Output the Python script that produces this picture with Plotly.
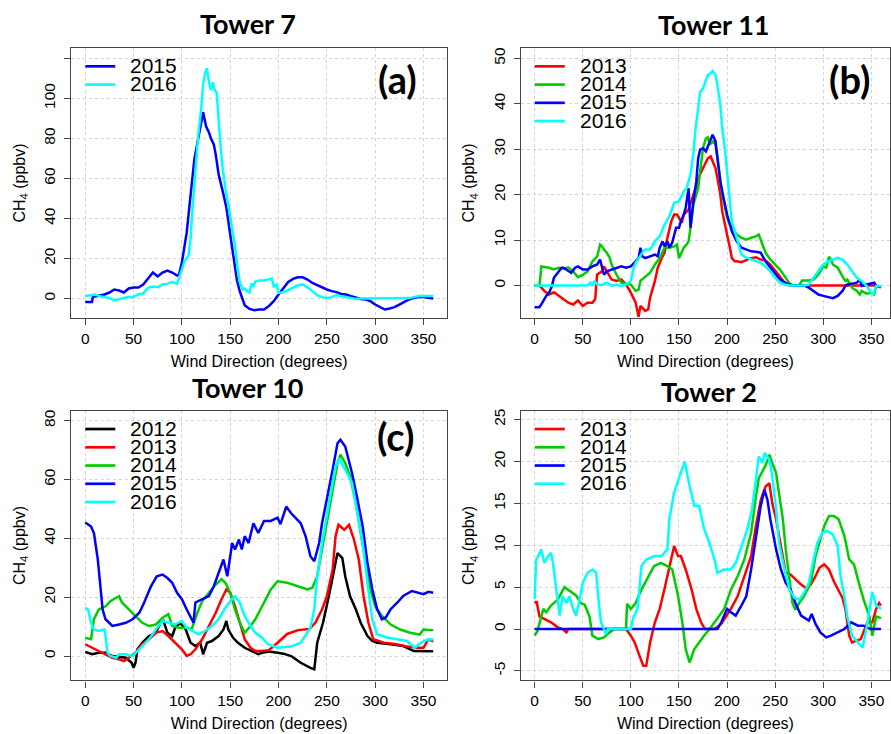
import plotly.graph_objects as go

W, H = 891, 734

# ---------------- data (wind direction in degrees, CH4 in ppbv) ----------------
a2015 = [(0,-1.8),(5,-1.8),(7,-1.8),(8,1),(10,1),(15,1.5),(20,2),(25,3),(30,4.5),(35,4),(40,3),(45,5),(50,5.5),(55,5.5),(60,7),(65,10),(70,13),(75,11),(80,13),(85,14),(90,13),(95,11.5),(97,12),(100,18),(103,26),(105,33),(108,47),(110,57),(113,70),(115,75),(118,82),(120,88),(122,93),(125,86),(128,83),(130,80),(133,77),(135,72),(138,62),(143,52),(146,45.5),(150,32),(153,22),(157,9),(160,3.5),(163,-1.3),(165,-3.3),(170,-5.2),(175,-5.8),(180,-5.5),(185,-5.5),(190,-3.8),(195,-1.3),(200,2),(205,5.3),(210,8.3),(215,9.8),(220,10.6),(225,10.6),(230,9.5),(235,7.8),(240,6.6),(245,5.3),(250,4.5),(255,3.7),(260,3.2),(265,2.3),(270,2),(275,1.2),(280,0.3),(285,-0.2),(290,-0.5),(295,-1.3),(300,-3),(305,-4.3),(310,-5.5),(315,-5),(320,-4.3),(325,-3),(330,-1.7),(335,-0.5),(340,0.3),(345,0.7),(350,0.7),(355,0.3),(360,0)]
a2016 = [(0,1.2),(5,1.7),(10,2),(15,1.2),(20,0.7),(25,0.3),(30,-1),(35,-0.2),(40,0.3),(45,0.7),(50,0.8),(55,2),(60,2.5),(65,5.3),(70,6),(75,5.6),(80,7),(85,7.3),(90,8.3),(95,7.3),(97,10.3),(100,15),(103,19),(107,21.5),(109,30),(111,45),(113,59),(115,70),(117,82),(120,95),(122,107),(124,112.5),(126,115),(128,108),(130,104),(132,108),(134,104),(136,103),(138,88),(140,76),(142,66),(145,55),(148,47),(150,41),(153,33),(155,26),(158,14),(160,8),(163,4.5),(165,5),(168,3.5),(170,3),(172,7.5),(174,6),(176,8.5),(180,9),(185,9),(190,9.5),(193,10),(195,6),(198,7),(200,2.8),(205,3.2),(210,4.2),(215,5.3),(220,6.6),(225,7),(230,5.6),(235,3.7),(240,1.7),(245,0.7),(250,0.3),(255,0.7),(260,1.7),(265,1.2),(270,0.7),(275,0.3),(280,-0.2),(285,0),(290,0),(300,0),(310,0),(320,0),(330,0),(335,0.2),(340,0.7),(345,1.2),(350,1.2),(355,1.3),(360,1.2)]

b2013 = [(0,0),(5,0),(10,-1.2),(15,-2),(20,-1.5),(25,-2.3),(30,-3),(35,-3.8),(40,-4.2),(45,-3.3),(50,-4.5),(55,-3.8),(60,-3.8),(63,-3),(64,0.2),(65,2.4),(70,3.1),(72,4.2),(75,3.1),(80,1.3),(85,1),(90,1.3),(95,0.2),(100,-1.6),(105,-3.8),(108,-6.9),(110,-4.5),(115,-5.6),(118,-5.3),(120,-2.7),(125,1),(128,3.9),(132,6),(135,7.2),(138,10.5),(142,14.1),(145,15.6),(148,15.6),(150,14.9),(153,13.8),(155,15.6),(158,16.3),(160,16.7),(165,20),(168,21.8),(170,23.6),(175,25.8),(180,28),(183,28.4),(185,27.3),(188,25.8),(190,23.6),(193,20),(195,16.3),(198,12.7),(200,11.2),(203,8.3),(205,6),(208,5.3),(210,5.3),(215,5.1),(220,5.5),(225,6),(230,6.2),(235,5.7),(240,5.5),(245,4.6),(250,3.3),(255,2),(260,0.6),(265,0),(280,0),(300,0),(320,0),(340,0),(355,0)]
b2014 = [(0,0),(5,0),(7,4.2),(10,4.1),(15,3.9),(20,3.5),(25,3.9),(30,3.7),(35,4),(40,3.1),(45,1.8),(50,2.3),(55,3.1),(60,5.3),(65,6.4),(68,9),(70,8.6),(72,7.9),(75,7.2),(78,6.1),(80,4.6),(85,2.4),(90,0.6),(95,0.4),(100,0.2),(105,-1.2),(108,-0.9),(110,1),(115,2),(120,2.8),(125,4.6),(130,6),(135,8.3),(140,8.3),(145,8.6),(148,9),(150,6),(152,6.8),(155,8.3),(158,9),(160,9.7),(162,12.7),(165,17.8),(168,20),(170,21.4),(172,25.1),(175,30.2),(178,32.4),(180,32.6),(182,31),(185,31.7),(188,31),(190,28),(193,23.6),(195,20),(198,17.1),(200,14.9),(203,13.4),(205,12.7),(208,11.9),(210,11.2),(215,10.5),(220,10.1),(225,10.5),(230,10.8),(233,11.2),(235,10.1),(238,8.3),(240,7.2),(245,5.7),(250,4.6),(255,3.5),(260,2),(265,0.4),(268,0),(275,0),(278,1.1),(285,1.1),(290,1.3),(295,2.4),(300,4.2),(303,3.9),(306,6.3),(308,5.7),(310,4.6),(315,3.9),(320,2),(323,1),(325,1.3),(330,-0.5),(335,-1.2),(338,-2),(340,-1.2),(345,-1.8),(350,-1.6),(353,-2),(355,0)]
b2015 = [(0,-4.8),(5,-4.8),(8,-3.8),(12,-2.3),(15,-1.6),(18,-0.1),(20,1.7),(25,3.1),(28,3.9),(30,3.9),(35,3.3),(38,2.8),(42,3.9),(45,4.2),(50,3.5),(55,3.5),(60,4.2),(65,4.6),(68,5.7),(70,4.2),(72,2.4),(75,3.1),(80,3.5),(85,3.9),(90,4.2),(95,3.9),(100,4.2),(105,5.3),(108,6),(110,8.3),(112,6.4),(115,6),(120,6.4),(125,6.8),(128,6.4),(130,8.3),(133,9.7),(135,8.6),(138,9.7),(140,8.3),(143,9.4),(145,11.2),(147,12.7),(150,12.7),(152,14.1),(155,15.6),(157,17.1),(160,21.4),(162,12.7),(165,18.5),(168,22.9),(170,28),(172,29.9),(175,30.2),(178,29.5),(180,30.6),(183,32.4),(185,33.2),(188,31.7),(190,28),(193,22.9),(195,20.7),(198,17.8),(200,15.6),(205,11.9),(210,9.7),(215,8.3),(220,7.9),(225,7.5),(230,7.4),(235,7.2),(240,5.3),(245,3.9),(250,2.6),(255,1.3),(260,0.6),(265,0.2),(270,0),(280,0),(285,-0.5),(290,-1.2),(295,-2),(300,-2.3),(305,-2.6),(310,-2.8),(315,-2.3),(320,-1.2),(323,-0.1),(325,0.2),(330,0.4),(335,0.6),(338,1.3),(340,-0.1),(345,0.2),(350,0.4),(353,0.6),(355,-0.1),(360,-0.4)]
b2016 = [(0,0),(20,0),(40,0),(55,0),(58,0.6),(60,-0.1),(62,1),(65,0.2),(70,0.1),(75,0.6),(80,-0.1),(85,0.2),(90,-0.1),(95,0.2),(100,1),(103,3.9),(105,5),(108,6),(110,6.8),(113,7.5),(115,7.9),(120,7.9),(125,9.7),(130,10.8),(135,13.4),(140,15.2),(145,18.2),(150,18.5),(155,20.7),(158,21.4),(162,24.4),(165,29),(167,34),(170,40),(172,42.5),(175,43.4),(178,44.9),(180,46.3),(183,46.7),(185,47.2),(188,46.3),(190,44.1),(193,39.8),(195,34.6),(198,29.5),(200,24.4),(203,18.5),(205,14.1),(208,11.9),(210,10.5),(213,8.3),(215,6.8),(220,6.1),(225,5.7),(230,5.3),(235,5),(240,4.2),(245,3.1),(250,1.7),(255,0.6),(260,0.2),(265,0),(280,0),(285,0.2),(290,1.7),(295,3.1),(300,4.6),(305,5.3),(310,5.7),(315,6.1),(320,5.7),(325,4.6),(330,3.1),(335,1.7),(340,1),(345,-0.1),(350,-1.6),(352,-2),(355,-0.1),(360,-0.1)]

c2012 = [(0,1.4),(7,0.6),(14,1.1),(21,1.1),(28,0),(35,-0.2),(42,-0.6),(48,-2.3),(50,-4),(52,-2.3),(54,2.3),(59,4.5),(66,6.8),(73,7.9),(78,11.3),(81,11.9),(85,7.9),(90,6.8),(93,9.6),(98,11.3),(104,9),(109,4.5),(114,3.4),(119,4.5),(122,0.6),(126,4.5),(131,5.1),(138,6.8),(143,9),(146,11.9),(148,9),(153,6.2),(158,4.5),(165,2.8),(172,1.7),(179,0.6),(183,1.1),(190,1.5),(199,1.1),(205,0.8),(213,0),(223,-2.3),(233,-4),(237,-4.5),(240,4.5),(246,11.3),(252,20.3),(258,30.5),(261,35),(266,33.3),(269,27.1),(274,20.3),(280,15.8),(285,11.3),(292,6.8),(297,5.1),(302,4.5),(316,4),(329,3.4),(340,1.7),(357,1.7),(360,1.6)]
c2013 = [(0,4),(7,2.8),(14,1.7),(21,0.6),(28,-0.6),(35,-1.1),(40,-1.7),(45,-0.6),(52,1.1),(59,4),(66,5.7),(73,7.9),(80,8.5),(86,6.8),(93,4.5),(100,2.3),(105,0),(109,0.6),(114,2.3),(121,5.7),(128,10.2),(135,14.7),(141,19.3),(146,22.6),(150,21.5),(155,16.9),(160,11.3),(165,5.7),(171,2.8),(176,1.7),(183,1.7),(190,2),(199,4.5),(209,7.5),(220,8.8),(232,9.2),(238,11.3),(245,15.8),(250,20.3),(256,29.4),(259,40.7),(262,44.6),(268,42.9),(273,44.6),(278,39.6),(283,32.8),(288,20.3),(293,11.3),(298,5.7),(309,4.5),(322,4),(333,3.2),(343,2.8),(350,2.8),(355,5.7),(360,5)]
c2014 = [(0,6.2),(6,5.7),(9,12.5),(14,15.8),(21,16.9),(26,18.6),(32,19.8),(35,20.3),(38,18.2),(45,15.8),(52,13.6),(59,11.3),(66,10.2),(73,10.7),(80,13),(86,14.2),(90,10.2),(97,9.6),(105,9.6),(110,9),(116,14.7),(121,18.6),(128,21.5),(135,24.3),(141,26.1),(145,24.9),(150,21.5),(155,15.8),(160,11.3),(165,7.9),(171,10.2),(176,12.5),(183,16.9),(192,22.6),(199,25.4),(209,24.9),(220,23.7),(230,22.6),(235,23.2),(240,27.1),(245,36.2),(250,45.1),(256,55.4),(261,65.6),(264,68.4),(269,65.6),(274,61.1),(280,52),(285,41.8),(290,31.7),(295,22.6),(300,16.9),(307,13.6),(316,10.7),(326,9),(336,7.9),(346,7.3),(350,9),(355,9),(360,8.8)]
c2015 = [(0,45.4),(6,44),(9,41.8),(13,32.8),(16,22.6),(18,15.8),(21,12.5),(28,10.2),(35,10.7),(42,11.3),(49,12.5),(56,14.7),(61,18.2),(68,23.7),(74,27.1),(80,27.7),(85,26.5),(90,24.9),(95,21.5),(100,19.3),(105,15.8),(110,12.5),(112,11.3),(114,18.2),(121,19.3),(128,20.4),(133,23.7),(138,28.3),(143,32.8),(147,27.1),(152,38.4),(155,36.2),(159,39.6),(162,36.2),(165,40.7),(169,38.4),(174,45.1),(179,41.8),(183,44.4),(185,45.9),(192,45.9),(199,47),(202,44.8),(208,50.8),(213,48.5),(223,45.1),(228,40.7),(233,33.9),(237,32.2),(242,38.4),(245,45.1),(250,52.9),(256,63.3),(261,72.3),(264,73.5),(269,71.2),(276,62.2),(281,54.3),(287,44.1),(292,31.7),(297,22.7),(302,15.9),(307,12.5),(311,13.1),(316,15.9),(323,18.2),(329,20.4),(338,22.1),(343,21.6),(350,21),(355,21.8),(360,21.5)]
c2016 = [(0,16.4),(3,15.8),(6,11.3),(9,9),(14,8.5),(20,9),(21,6.8),(23,1.1),(26,0),(32,-0.6),(35,0.6),(42,0.6),(49,0),(56,2.3),(61,4),(66,5.7),(73,9),(80,11.9),(86,11.3),(93,10.7),(100,11.9),(105,9.6),(111,8.5),(117,7.4),(124,8.5),(131,10.2),(138,12.5),(145,16.4),(150,18.6),(155,20.3),(160,18.1),(165,13.6),(171,10.2),(176,7.9),(183,6.2),(189,4),(199,2.8),(213,3.2),(223,4.5),(233,9.6),(237,16),(240,27),(245,38.4),(249,46.3),(254,55.4),(259,64.4),(263,67.2),(266,65),(271,62.2),(276,58.8),(281,49.7),(287,38.4),(292,24.8),(297,12.5),(302,7.4),(312,6.3),(323,5.7),(333,5.1),(341,2.8),(347,4.5),(355,5.7),(360,5.6)]

d2013 = [(0,3.1),(2,3.3),(5,1.5),(10,1.2),(17,0.8),(24,0.2),(29,0),(33,-0.4),(35,0),(60,0),(95,0),(100,-0.8),(104,-1.6),(109,-3.2),(113,-4.4),(116,-4.4),(120,-1.6),(125,0.8),(130,2.4),(135,4.8),(140,7.5),(145,9.9),(149,8.7),(152,8.7),(157,7.1),(163,4.8),(168,2.4),(173,0.8),(177,0),(187,0),(194,0.6),(204,2.4),(211,3.9),(218,6.3),(225,8.7),(230,12.3),(235,15.4),(240,17),(244,17.4),(247,15),(251,13.1),(256,9.9),(261,6.7),(266,6.5),(271,5.9),(277,5.3),(282,4.9),(287,5.3),(292,6.3),(296,7.3),(301,7.7),(306,7.1),(311,5.7),(316,4.5),(320,3.7),(323,2.4),(327,-0.8),(330,-1.6),(334,-1.4),(339,-1.2),(346,0.8),(351,0.8),(355,2.4),(358,3.1),(360,2.8)]
d2014 = [(0,-0.8),(3,-0.2),(9,2.4),(12,2),(17,2.8),(24,3.5),(31,5),(36,4.6),(43,4),(48,3.1),(52,2.9),(57,1.5),(60,-0.8),(66,-1.2),(72,-1),(78,-0.4),(83,0),(95,0),(96,3),(100,2.4),(105,3.1),(111,4.7),(118,6.3),(124,7.5),(131,7.9),(138,7.5),(143,7.1),(149,4),(154,0.4),(157,-2.4),(161,-4),(166,-2.4),(171,-1.6),(176,-0.8),(182,0),(187,0.8),(197,2.4),(204,4.7),(211,6.3),(218,8.3),(225,11.5),(230,15.8),(233,18),(240,19.5),(244,20.8),(247,19.8),(251,18.6),(254,16.2),(258,13.1),(261,9.5),(265,5.5),(268,3.1),(271,2.3),(275,3.1),(280,3.9),(287,5.5),(292,8.7),(296,10.3),(301,12.3),(306,13.5),(311,13.5),(316,13.1),(322,11.1),(327,8.3),(332,7.7),(337,5.5),(342,3.5),(348,1.5),(351,-0.8),(355,1.5),(360,1.3)]
d2015 = [(0,0),(50,0),(100,0),(150,0),(190,0),(194,0.8),(200,2.4),(204,2),(209,1.6),(214,2.6),(220,3.9),(225,7.1),(230,11.1),(235,14.7),(239,16.6),(242,15.4),(245,13.1),(251,9.5),(256,7.1),(261,5.5),(266,4.7),(271,3.1),(277,1.6),(282,1.2),(285,1),(288,1.8),(292,0.6),(297,-0.4),(303,-1),(308,-0.8),(315,-0.4),(322,0),(329,0.8),(336,0.4),(342,0.4),(349,0),(360,0)]
d2016 = [(0,3.6),(1.5,8.2),(7,9.5),(10,7.9),(14,8.7),(17,9.1),(19,7.9),(22,5.1),(26,1.6),(29,3.9),(33,3.1),(36,3.9),(40,2.4),(43,1.6),(46,3.1),(50,5.5),(55,6.7),(60,7.1),(64,6.7),(66,3.9),(69,0.8),(72,0),(74,-0.6),(76,0),(100,0),(102,1.2),(107,2.4),(111,7.5),(116,8.3),(125,8.7),(132,8.7),(138,9.5),(140,13.1),(145,16.3),(151,18.3),(156,20),(161,17.1),(166,14.7),(171,14.7),(176,12),(181,10.5),(187,8.3),(190,6.7),(197,7.1),(204,7.1),(209,7.9),(214,9.5),(221,11.9),(226,14.3),(230,18.2),(233,20.6),(237,19.8),(239,21),(244,20.2),(247,18.2),(251,14.3),(254,10.3),(259,7.5),(265,4.7),(270,3.7),(275,3.5),(280,4.3),(285,5.5),(290,8.3),(294,10.3),(299,11.5),(304,11.7),(310,11.3),(315,9.9),(318,6.3),(322,3.9),(325,1.5),(330,-0.8),(336,-1.6),(341,-2.2),(346,0.8),(351,4.4),(355,2.8),(360,2.4)]

x_ticks = [0, 50, 100, 150, 200, 250, 300, 350]
a_yticks = [0, 20, 40, 60, 80, 100]
a_ylabels = ["0", "20", "40", "60", "80", "100"]
a_yextra = [120]          # unlabelled tick + grid line at the top of panel (a)
b_yticks = [0, 10, 20, 30, 40, 50]
b_ylabels = ["0", "10", "20", "30", "40", "50"]
c_yticks = [0, 20, 40, 60, 80]
c_ylabels = ["0", "20", "40", "60", "80"]
d_yticks = [-5, 0, 5, 10, 15, 20, 25]
d_ylabels = ["-5", "0", "5", "10", "15", "20", "25"]

COLORS = {"2012": "#000000", "2013": "#FF0000", "2014": "#00CD00",
          "2015": "#0000FF", "2016": "#00FFFF"}

# ---------------- layout geometry (pixels) ----------------
panels = [
    dict(ax="", title="Tower 7", label="(a)", series=[("2015", a2015), ("2016", a2016)],
         box=(71.4, 447.6, 46, 317), xr=[-14.4, 374.4], yr=[-9.8, 125.2],
         yt=a_yticks, yl=a_ylabels, ym=a_yextra, tpos=(248, 22), lpos=(398, 77)),
    dict(ax="2", title="Tower 11", label="(b)",
         series=[("2013", b2013), ("2014", b2014), ("2015", b2015), ("2016", b2016)],
         box=(521.4, 891, 46, 317), xr=[-14.4, 369.4], yr=[-7.2, 52.3],
         yt=b_yticks, yl=b_ylabels, ym=None, tpos=(714, 23), lpos=(850, 77)),
    dict(ax="3", title="Tower 10", label="(c)",
         series=[("2012", c2012), ("2013", c2013), ("2014", c2014), ("2015", c2015), ("2016", c2016)],
         box=(71.4, 447.6, 409.7, 680.3), xr=[-14.4, 374.4], yr=[-8.3, 83.4],
         yt=c_yticks, yl=c_ylabels, ym=None, tpos=(248, 387), lpos=(396, 435)),
    dict(ax="4", title="Tower 2", label=None,
         series=[("2013", d2013), ("2014", d2014), ("2015", d2015), ("2016", d2016)],
         box=(521.4, 891, 409.7, 680.3), xr=[-14.4, 369.4], yr=[-6.14, 26.07],
         yt=d_yticks, yl=d_ylabels, ym=None, tpos=(710, 391), lpos=None),
]


def px(x):
    return x / W


def py(y):
    return 1 - y / H


fig = go.Figure()
annotations = []
shapes = []
TICKFONT = dict(family="Liberation Sans, Arial, sans-serif", size=15.5, color="#000000")
LABFONT = dict(family="Liberation Sans, Arial, sans-serif", size=16, color="#000000")
TITLEFONT = dict(family="Lato, sans-serif", size=27, color="#000000", weight="bold")

for p in panels:
    L, R, T, B = p["box"]
    xa = "x" + p["ax"]
    ya = "y" + p["ax"]
    for year, pts in p["series"]:
        fig.add_trace(go.Scatter(
            x=[d for d, v in pts], y=[v for d, v in pts], mode="lines",
            line=dict(color=COLORS[year], width=2.5), xaxis=xa, yaxis=ya,
            showlegend=False, name=year))
    common = dict(showline=True, mirror=True, linecolor="#444444", linewidth=1.2,
                  ticks="outside", ticklen=6, tickcolor="#444444", tickwidth=1,
                  showgrid=True, gridcolor="#D3D3D3", griddash="dot", gridwidth=1,
                  zeroline=False, tickfont=TICKFONT)
    fig.layout["xaxis" + p["ax"]] = dict(
        domain=[px(L), min(px(R), 1.0)], range=p["xr"], anchor=ya,
        title=dict(text="Wind Direction (degrees)", font=LABFONT, standoff=9),
        tickmode="array", tickvals=x_ticks, ticktext=[str(t) for t in x_ticks], **common)
    ydict = dict(domain=[py(B), py(T)], range=p["yr"], anchor=xa, tickangle=-90,
                 ticklabelstandoff=3,
                 title=dict(text="CH<sub>4</sub> (ppbv)", font=LABFONT, standoff=11),
                 tickmode="array", tickvals=p["yt"], ticktext=p["yl"], **common)
    if p["ym"]:
        ydict["minor"] = dict(tickmode="array", tickvals=p["ym"], ticks="outside",
                              ticklen=6, tickcolor="#444444", tickwidth=1,
                              showgrid=True, gridcolor="#D3D3D3", griddash="dot",
                              gridwidth=1)
    fig.layout["yaxis" + p["ax"]] = ydict

    # titles
    annotations.append(dict(text=p["title"], x=px(p["tpos"][0]), y=py(p["tpos"][1]),
                            xref="paper", yref="paper", showarrow=False,
                            xanchor="center", yanchor="middle", font=TITLEFONT))
    if p["label"]:
        annotations.append(dict(text=p["label"], x=px(p["lpos"][0]), y=py(p["lpos"][1]),
                                xref="paper", yref="paper", showarrow=False,
                                xanchor="center", yanchor="middle",
                                font=dict(family="Lato, sans-serif", size=38,
                                          color="#000000", weight="bold")))
    # legend (manual, R-style)
    for i, (year, _) in enumerate(p["series"]):
        ry = T + 18.5 + i * 18.3
        shapes.append(dict(type="line", xref="paper", yref="paper",
                           x0=px(L + 14), x1=px(L + 44), y0=py(ry), y1=py(ry),
                           line=dict(color=COLORS[year], width=2.7)))
        annotations.append(dict(text=year, x=px(L + 57), y=py(ry - 1.5),
                                xref="paper", yref="paper", showarrow=False,
                                xanchor="left", yanchor="middle", height=18,
                                font=dict(family="Liberation Sans, Arial, sans-serif",
                                          size=21, color="#000000")))

fig.update_layout(width=W, height=H, margin=dict(l=0, r=0, t=0, b=0),
                  paper_bgcolor="white", plot_bgcolor="white",
                  annotations=annotations, shapes=shapes, showlegend=False)

fig.write_html("out.html")
